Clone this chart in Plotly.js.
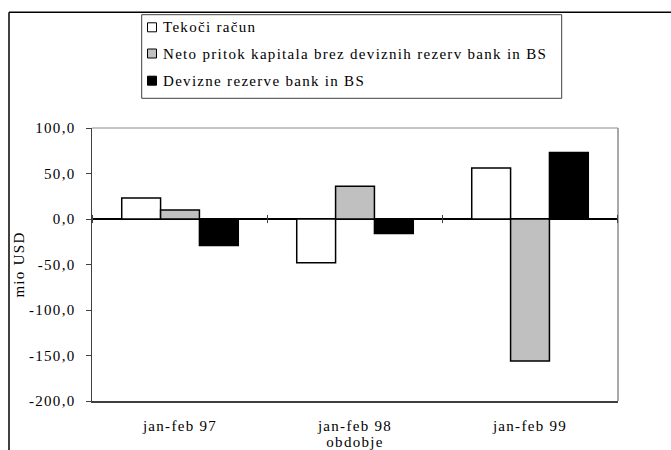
<!DOCTYPE html>
<html><head><meta charset="utf-8">
<script src="https://cdn.plot.ly/plotly-3.0.1.min.js"></script>
<style>
html,body{margin:0;padding:0;background:#fff;}
#chart{width:671px;height:450px;}
svg text{letter-spacing:1.3px;}
</style></head><body><div id="chart"></div>
<script>
// ---- data ----
const categories = ["jan-feb 97", "jan-feb 98", "jan-feb 99"];
const seriesNames = ["Tekoči račun", "Neto pritok kapitala brez deviznih rezerv bank in BS", "Devizne rezerve bank in BS"];
const tekociRacun = [23, -48, 56];
const netoPritok = [10, 36, -156];
const devizneRezerve = [-29, -16, 73];
const yTickValues = [-200, -150, -100, -50, 0, 50, 100];
const yTickLabels = ["-200,0", "-150,0", "-100,0", "-50,0", "0,0", "50,0", "100,0"];
const xTitle = "obdobje";
const yTitle = "mio USD";

// ---- styles / geometry ----
const seriesValues = [tekociRacun, netoPritok, devizneRezerve];
const fills = ["#ffffff", "#c0c0c0", "#000000"];
const FONT = "Liberation Serif";
const WIDTH = 671, HEIGHT = 450;
const M = {l: 92, r: 53, t: 128, b: 49};
const PW = WIDTH - M.l - M.r, PH = HEIGHT - M.t - M.b;
const px = x => (x - M.l) / PW;
const py = y => (M.t + PH - y) / PH;

const traces = seriesValues.map((vals, i) => ({
  type: "bar",
  x: categories,
  y: vals,
  name: seriesNames[i],
  marker: {color: fills[i], line: {color: "#000000", width: 1.5}},
  showlegend: false
}));

const shapes = [];
// outer frame
shapes.push({type: "line", xref: "paper", yref: "paper", x0: px(9), x1: px(700), y0: py(12.3), y1: py(12.3), line: {color: "#000", width: 1.5}});
shapes.push({type: "line", xref: "paper", yref: "paper", x0: px(9), x1: px(9), y0: py(12.3), y1: py(470), line: {color: "#000", width: 1.5}});
// plot frame top & right
shapes.push({type: "line", xref: "paper", yref: "paper", x0: 0, x1: 1, y0: 1, y1: 1, line: {color: "#8c8c8c", width: 1}});
shapes.push({type: "line", xref: "paper", yref: "paper", x0: 1, x1: 1, y0: 0, y1: 1, line: {color: "#8c8c8c", width: 1.5}});
// category ticks on the zero line
for (let i = 0; i <= categories.length; i++) {
  shapes.push({type: "line", xref: "x", yref: "y", x0: i - 0.5, x1: i - 0.5, y0: -4.5, y1: 4.5, line: {color: "#404040", width: 1}});
}
// legend box
shapes.push({type: "rect", xref: "paper", yref: "paper", x0: px(141.7), x1: px(561.7), y0: py(98.3), y1: py(14.7), line: {color: "#404040", width: 1}, fillcolor: "rgba(0,0,0,0)"});
const rowY = [27.3, 53.5, 80.7];
const annotations = [];
seriesNames.forEach((n, i) => {
  shapes.push({type: "rect", xref: "paper", yref: "paper", x0: px(147.5), x1: px(156.5), y0: py(rowY[i] + 4.5), y1: py(rowY[i] - 4.5), line: {color: "#000", width: 1}, fillcolor: fills[i]});
  annotations.push({xref: "paper", yref: "paper", x: px(161), y: py(rowY[i]), xanchor: "left", yanchor: "middle", text: n, showarrow: false, font: {family: FONT, size: 15, color: "#000"}});
});

const layout = {
  width: WIDTH, height: HEIGHT,
  margin: M,
  paper_bgcolor: "#fff", plot_bgcolor: "#fff",
  font: {family: FONT, size: 15, color: "#000"},
  barmode: "group", bargap: 0.334, bargroupgap: 0,
  showlegend: false,
  xaxis: {
    type: "category",
    showline: true, linecolor: "#404040", linewidth: 1.5,
    ticks: "", showgrid: false, zeroline: false,
    tickfont: {family: FONT, size: 15, color: "#000"},
    ticklabelstandoff: 10,
    title: {text: xTitle, font: {family: FONT, size: 15, color: "#000"}, standoff: 2}
  },
  yaxis: {
    range: [-200, 100],
    tickvals: yTickValues, ticktext: yTickLabels,
    ticks: "outside", ticklen: 5, tickcolor: "#404040", tickwidth: 1,
    showline: true, linecolor: "#404040", linewidth: 1.5,
    showgrid: false,
    zeroline: true, zerolinecolor: "#000", zerolinewidth: 1.5,
    tickfont: {family: FONT, size: 15, color: "#000"},
    ticklabelstandoff: 7,
    title: {text: yTitle, font: {family: FONT, size: 15, color: "#000"}, standoff: 0}
  },
  shapes: shapes,
  annotations: annotations
};

Plotly.newPlot("chart", traces, layout, {staticPlot: true, displayModeBar: false});
</script>
</body></html>
